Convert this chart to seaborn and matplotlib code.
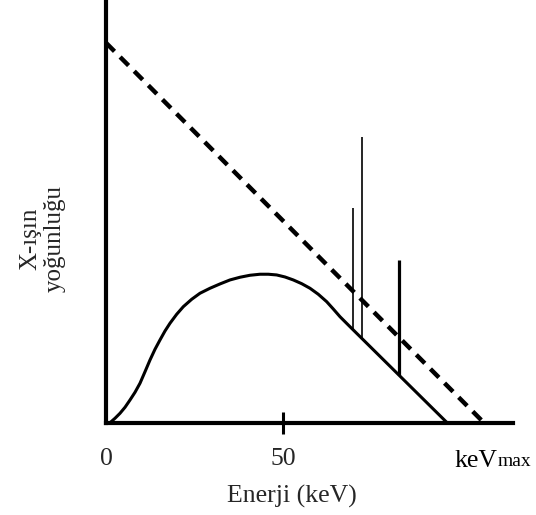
import numpy as np
import pandas as pd
import seaborn as sns
import matplotlib.pyplot as plt
from matplotlib import transforms

# continuous (bremsstrahlung) spectrum
curve_x = [1.13, 2.54, 3.95, 5.37, 6.78, 8.19, 9.60, 11.02, 12.43, 13.84,
           15.25, 16.67, 18.08, 19.97, 21.84, 24.21, 26.55, 29.38, 32.20,
           35.03, 37.85, 40.68, 43.50, 45.85, 48.22, 50.56, 52.91, 55.28,
           57.63, 59.97, 62.34, 64.21, 66.10, 68.93, 96.6]
curve_y = [0.23, 1.47, 2.88, 4.58, 6.64, 8.81, 11.36, 14.63, 17.94, 20.96,
           23.59, 26.13, 28.31, 30.85, 32.99, 35.08, 36.78, 38.19, 39.41,
           40.54, 41.30, 41.86, 42.15, 42.15, 41.95, 41.38, 40.54, 39.49,
           38.19, 36.50, 34.41, 32.34, 30.17, 27.34, 0.0]

# unfiltered (theoretical) spectrum
dash_x = [0, 107]
dash_y = [107.5, 0]

# characteristic lines
line_x = [69.9, 72.4, 82.8]
line_bottom = [26.4, 24.0, 13.6]
line_top = [60.9, 80.9, 46.2]
line_w = [1.2, 1.2, 2.3]

tick_pos = [0, 50]
tick_text = ["0", "50"]
kev_max = 107

sns.set_theme(style="white")
plt.rcParams["font.family"] = ["Liberation Serif", "DejaVu Serif"]

fig = plt.figure(figsize=(5.36, 5.15), dpi=100)
ax = fig.add_axes([0.1978, 0.1777, 0.7593, 0.8223])

df = pd.DataFrame({"x": curve_x, "y": curve_y})
sns.lineplot(data=df, x="x", y="y", sort=False, estimator=None,
             color="black", linewidth=2.2, ax=ax)

dd = pd.DataFrame({"x": dash_x, "y": dash_y})
sns.lineplot(data=dd, x="x", y="y", sort=False, estimator=None,
             color="black", linewidth=3.2, dashes=False, ax=ax,
             linestyle=(0, (2.7, 1.8)))

for x, b, t, w in zip(line_x, line_bottom, line_top, line_w):
    ax.vlines(x, b, t, color="black", linewidth=w)

ax.set_xlim(0, 115)
ax.set_ylim(0, 119.6)

for s in ["top", "right"]:
    ax.spines[s].set_visible(False)
for s in ["left", "bottom"]:
    ax.spines[s].set_color("black")
    ax.spines[s].set_linewidth(3)

ax.set_yticks([])
ax.set_xticks(tick_pos)
ax.set_xticklabels(tick_text, fontsize=18.5)
ax.tick_params(axis="x", direction="inout", length=16, width=2.2,
               color="black", pad=9.8, bottom=True)
ax.xaxis.get_major_ticks()[0].tick1line.set_visible(False)
ax.set_xlabel("")
ax.set_ylabel("")

trans = transforms.blended_transform_factory(ax.transData, ax.transAxes)
t1 = ax.text(kev_max - 8.5, -0.1027, "keV", transform=trans, fontsize=18.5,
             ha="left", va="baseline", color="black")
ax.annotate("max", xy=(1, 0), xycoords=t1, xytext=(0, 4),
            textcoords="offset points", fontsize=14,
            ha="left", va="baseline", color="black")

fig.text(0.545, 0.0233, "Enerji (keV)", fontsize=18.5, ha="center",
         va="baseline")
fig.text(0.0793, 0.537, "X-ışın\nyoğunluğu", fontsize=18, rotation=90,
         ha="center", va="center", multialignment="center", linespacing=1.1)

fig.savefig("out.png", dpi=100)
